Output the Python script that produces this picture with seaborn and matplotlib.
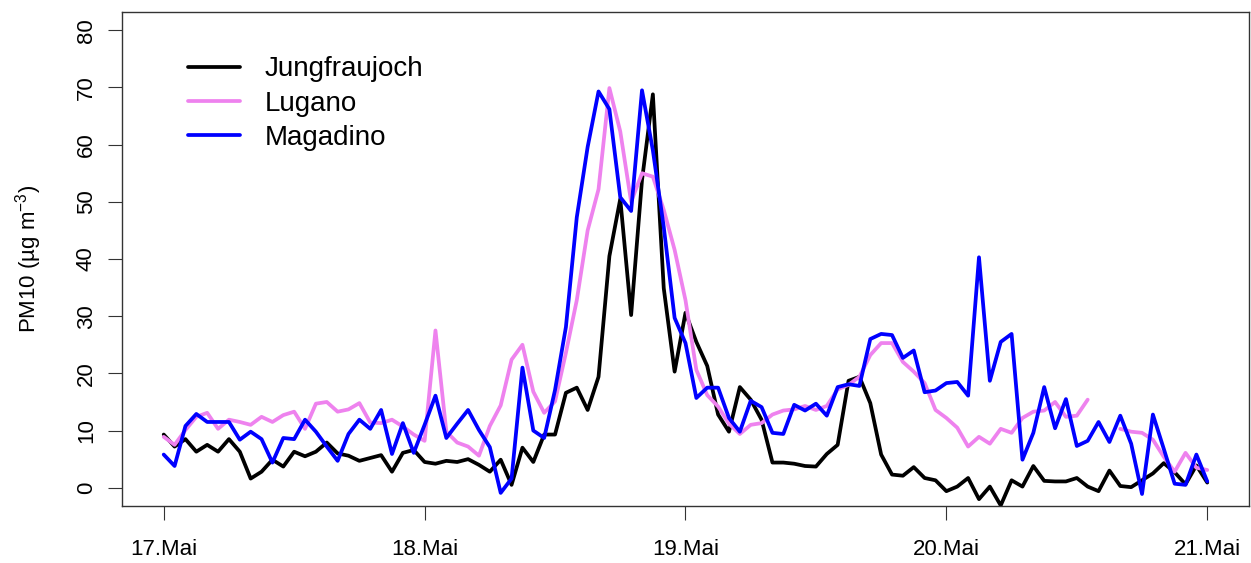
import numpy as np
import pandas as pd
import seaborn as sns
import matplotlib.pyplot as plt

# hourly PM10 values, 17.05 00:00 to 21.05 00:00
jungfraujoch = [9.3, 7.2, 8.5, 6.3, 7.5, 6.3, 8.5, 6.3, 1.6, 2.8, 4.9, 3.7, 6.3, 5.5, 6.3, 7.9,
                6.0, 5.6, 4.7, 5.2, 5.7, 2.8, 6.1, 6.6, 4.5, 4.2, 4.7, 4.5, 5.0, 4.0, 2.8, 4.9,
                0.5, 7.0, 4.5, 9.3, 9.3, 16.6, 17.5, 13.6, 19.4, 40.5, 50.5, 30.2, 53.8, 68.8,
                34.9, 20.3, 30.6, 25.5, 21.3, 12.8, 9.8, 17.6, 15.4, 11.9, 4.4, 4.4, 4.2, 3.8,
                3.7, 5.9, 7.5, 18.7, 19.4, 14.8, 5.8, 2.3, 2.1, 3.6, 1.7, 1.3, -0.6, 0.2, 1.7,
                -2.0, 0.2, -3.1, 1.3, 0.2, 3.8, 1.2, 1.1, 1.1, 1.7, 0.2, -0.6, 3.0, 0.3, 0.1,
                1.3, 2.5, 4.3, 2.7, 0.6, 3.9, 0.9]
lugano = [8.9, 7.5, 10.1, 12.4, 13.1, 10.3, 11.9, 11.5, 11.0, 12.4, 11.5, 12.7, 13.3, 10.3,
          14.7, 15.0, 13.3, 13.7, 14.8, 11.4, 11.3, 11.9, 10.7, 9.3, 8.2, 27.5, 9.8, 7.9, 7.2,
          5.6, 10.8, 14.4, 22.4, 25.0, 16.8, 13.1, 15.1, 23.6, 32.8, 45.0, 52.2, 69.9, 62.3,
          50.0, 55.0, 54.4, 48.6, 41.6, 32.8, 20.6, 16.2, 14.2, 11.2, 9.4, 11.0, 11.3, 12.8,
          13.5, 13.7, 14.3, 13.6, 14.3, 17.2, 18.0, 19.4, 23.2, 25.3, 25.3, 22.0, 20.3, 18.3,
          13.6, 12.2, 10.5, 7.2, 8.9, 7.7, 10.3, 9.6, 12.2, 13.3, 13.5, 15.0, 12.4, 12.6, 15.4,
          np.nan, np.nan, 10.3, 9.8, 9.6, 8.4, 5.4, 2.8, 6.1, 3.5, 3.1]
magadino = [5.8, 3.8, 10.8, 12.9, 11.5, 11.5, 11.5, 8.4, 9.8, 8.5, 4.4, 8.7, 8.5, 11.9, 9.8,
            7.2, 4.7, 9.4, 11.9, 10.3, 13.6, 5.9, 11.3, 6.1, 11.0, 16.1, 8.7, 11.2, 13.6, 10.1,
            7.1, -0.9, 1.6, 21.0, 10.0, 8.7, 17.1, 28.1, 47.3, 59.6, 69.3, 66.2, 50.8, 48.4,
            69.5, 59.0, 45.6, 29.7, 25.3, 15.7, 17.5, 17.5, 12.2, 9.8, 15.2, 14.1, 9.6, 9.4,
            14.5, 13.5, 14.7, 12.6, 17.6, 18.1, 17.8, 26.0, 26.9, 26.7, 22.7, 24.0, 16.7, 17.0,
            18.3, 18.5, 16.1, 40.3, 18.7, 25.5, 26.9, 4.9, 9.6, 17.6, 10.4, 15.5, 7.3, 8.2,
            11.5, 8.0, 12.6, 7.7, -1.1, 12.8, 6.8, 0.7, 0.5, 5.8, 1.1]

stations = ["Jungfraujoch", "Lugano", "Magadino"]
colors = ["black", "violet", "blue"]
tick_days = ["17.Mai", "18.Mai", "19.Mai", "20.Mai", "21.Mai"]

time = pd.date_range("2008-05-17 00:00", periods=len(jungfraujoch), freq="h")
series = {"Jungfraujoch": jungfraujoch, "Lugano": lugano, "Magadino": magadino}

sns.set_style("ticks")
plt.rcParams["font.family"] = ["Liberation Sans", "DejaVu Sans"]
plt.rcParams["mathtext.fontset"] = "custom"
plt.rcParams["mathtext.rm"] = "Liberation Sans"
plt.rcParams["text.color"] = "black"
plt.rcParams["axes.labelcolor"] = "black"
plt.rcParams["xtick.color"] = "black"
plt.rcParams["ytick.color"] = "black"

fig = plt.figure(figsize=(12.51, 5.63), dpi=100)
ax = fig.add_axes([0.0975, 0.1012, 0.9009, 0.8775])

for name, col in zip(stations, colors):
    s = pd.Series(series[name], index=time)
    # split at gaps so the line is not joined over missing hours
    seg = s.isna().cumsum()
    first = True
    for _, part in s[s.notna()].groupby(seg[s.notna()]):
        sns.lineplot(x=part.index, y=part.values, ax=ax, color=col, linewidth=2.7,
                     label=name if first else None, legend=False)
        first = False

start = pd.Timestamp("2008-05-17")
ax.set_xlim(start - pd.Timedelta(days=0.16), start + pd.Timedelta(days=4.16))
ax.set_ylim(-3.2, 83.2)
ax.set_xticks(pd.date_range(start, periods=5, freq="D"))
ax.set_xticklabels(tick_days)
ax.set_yticks(range(0, 81, 10))
ax.tick_params(axis="both", direction="out", length=10, width=0.8, labelsize=16,
               color="#333", labelcolor="black")
ax.tick_params(axis="x", pad=14)
ax.tick_params(axis="y", pad=8, labelrotation=90)
for t in ax.get_yticklabels():
    t.set_va("center")
for sp in ax.spines.values():
    sp.set_visible(True)
    sp.set_color("#333")
    sp.set_linewidth(1.0)

ax.set_xlabel("")
ax.set_ylabel("PM10 (µg m$^{-3}$)", fontsize=16, color="black")
ax.yaxis.set_label_coords(-0.069, 0.5)

ax.legend(loc="upper left", bbox_to_anchor=(0.0586, 0.91), frameon=False, fontsize=20,
          handlelength=1.87, handletextpad=0.9, labelspacing=0.3, borderpad=0, borderaxespad=0)

fig.savefig("out.png", dpi=100)
